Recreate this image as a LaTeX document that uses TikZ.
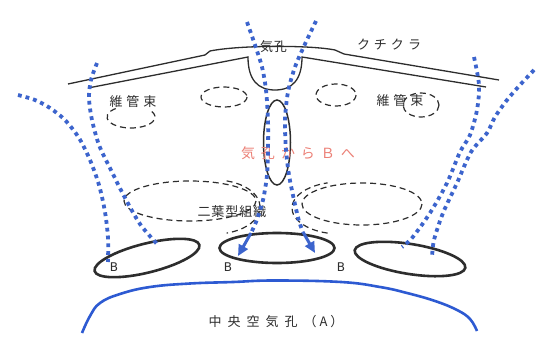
\documentclass[tikz,border=0pt]{standalone}
\usepackage{fontspec}
\newfontfamily\jp{Noto Sans CJK JP}
\newfontfamily\lat{DejaVu Sans}
\usetikzlibrary{arrows.meta}
\definecolor{ink}{RGB}{45,45,45}
\definecolor{dotblue}{RGB}{60,100,205}
\definecolor{arcblue}{RGB}{45,90,210}
\definecolor{pinktext}{RGB}{236,128,118}
\definecolor{txt}{RGB}{45,45,45}

\begin{document}
\begin{tikzpicture}[x=1pt,y=-1pt,
  cuticle/.style={draw=ink,line width=1.3pt},
  bundle/.style={draw=ink,line width=1.2pt,dash pattern=on 6pt off 4pt},
  cavity/.style={draw=ink,line width=2.6pt},
  flow/.style={draw=dotblue,line width=3.8pt,dash pattern=on 3.8pt off 4pt},
  flowhead/.style={draw=dotblue,fill=dotblue,line width=3pt,-{Triangle[length=11pt,width=10pt]}},
  label/.style={text=txt,font=\jp\fontsize{13}{13}\selectfont,inner sep=0pt},
  blabel/.style={text=txt,font=\lat\fontsize{12}{12}\selectfont,inner sep=0pt}]

\useasboundingbox (0,0) rectangle (549,343);
\fill[white] (0,0) rectangle (549,343);

% cuticle layer with the stomatal pore
\draw[cuticle] (68,84) -- (205,55) -- (210,51)
  .. controls (240,45) and (310,45) .. (335,50) -- (344,54) -- (499,80);
\draw[cuticle] (88,88) -- (248,57)
  .. controls (248,80) and (258,90) .. (275,90)
  .. controls (292,90) and (302,80) .. (302,57) -- (486,87);

% vascular bundles
\draw[bundle] (131,117) ++(-30:24 and 11) arc[start angle=-30,end angle=235,x radius=24,y radius=11];
\draw[bundle] (224,97) ellipse [x radius=23,y radius=10];
\draw[bundle] (336,95) ellipse [x radius=20,y radius=11];
\draw[bundle] (421,105) ellipse [x radius=18,y radius=12];

% two-lobed tissue
\draw[bundle] (190,201) ellipse [x radius=66,y radius=20];
\draw[bundle] (215,207) ++(-75:45 and 27) arc[start angle=-75,end angle=75,x radius=45,y radius=27];
\draw[bundle] (362,204) ellipse [x radius=60,y radius=21];
\draw[bundle] (340,208) ++(105:48 and 26) arc[start angle=105,end angle=255,x radius=48,y radius=26];

% sub-stomatal channel
\draw[cuticle,line width=1.5pt] (277,142.5) ellipse [x radius=13.5,y radius=42.5];

% intercellular spaces B
\draw[cavity,rotate around={14:(147,258)}] (147,258) ellipse [x radius=54,y radius=14.5];
\draw[cavity] (277,248) ellipse [x radius=57.5,y radius=15];
\draw[cavity,rotate around={-9:(410,259)}] (410,259) ellipse [x radius=56,y radius=15];

% central air cavity A
\draw[arcblue,line width=2.6pt] plot[smooth,tension=0.7] coordinates {
  (82,333) (90,316) (100,303) (120,294) (150,287) (190,283.5) (233,282)
  (274,280.5) (341,282) (380,287) (407,293) (435,301) (457,310) (470,319) (477,331)};

% labels
\node[label] (pore) at (273.5,47) {気\kern1pt 孔};
\node[label] (cut) at (389,45) {ク\kern4pt チ\kern4pt ク\kern4pt ラ};
\node[label] (vbl) at (133,102) {維\kern4pt 管\kern4pt 束};
\node[label] (vbr) at (400,101) {維\kern4pt 管\kern4pt 束};
\node[label] (tissue) at (232,212) {二\kern1pt 葉\kern1pt 型\kern1pt 組\kern1pt 織};
\node[label] (cavA) at (276,322) {中\kern6pt 央\kern6pt 空\kern6pt 気\kern6pt 孔\kern6pt （\kern3pt A\kern3pt ）};
\node[text=pinktext,font=\jp\fontsize{14}{14}\selectfont,inner sep=0pt] (route) at (298,153)
  {気\kern6pt 孔\kern6pt か\kern6pt ら\kern6pt Ｂ\kern6pt へ};
\node[blabel] (b1) at (114,267) {B};
\node[blabel] (b2) at (228,267) {B};
\node[blabel] (b3) at (341,267) {B};

% air flow paths
\draw[flow] plot[smooth] coordinates {(18,95) (35,100) (50,108) (65,120) (79,138) (90,160) (99,185) (105,212) (108,238) (108,262)};
\draw[flow] plot[smooth] coordinates {(97,63) (91,80) (89,98) (92,120) (99,145) (110,168) (124,196) (140,224) (158,245)};
\draw[flow] plot[smooth] coordinates {(247,22) (255,45) (262,67) (266,90) (268,120) (268,150) (267,175) (263,200) (256,222) (251,233)};
\coordinate (c1) at (251,233);
\coordinate (t1) at (238,256);
\draw[flowhead] (c1) -- (t1);
\draw[flow] plot[smooth] coordinates {(316,21) (305,44) (295,67) (288,92) (285,120) (286,150) (289,175) (294,200) (299,221) (303,232)};
\coordinate (c2) at (303,232);
\coordinate (t2) at (315,253);
\draw[flowhead] (c2) -- (t2);
\draw[flow] plot[smooth] coordinates {(474,57) (479,85) (477,110) (470,135) (460,152) (447,183) (430,213) (412,238) (402,247)};
\draw[flow] plot[smooth] coordinates {(534,70) (520,85) (507,100) (495,117) (487,133) (471,152) (457,183) (443,213) (434,240) (432,258)};

\end{tikzpicture}
\end{document}
